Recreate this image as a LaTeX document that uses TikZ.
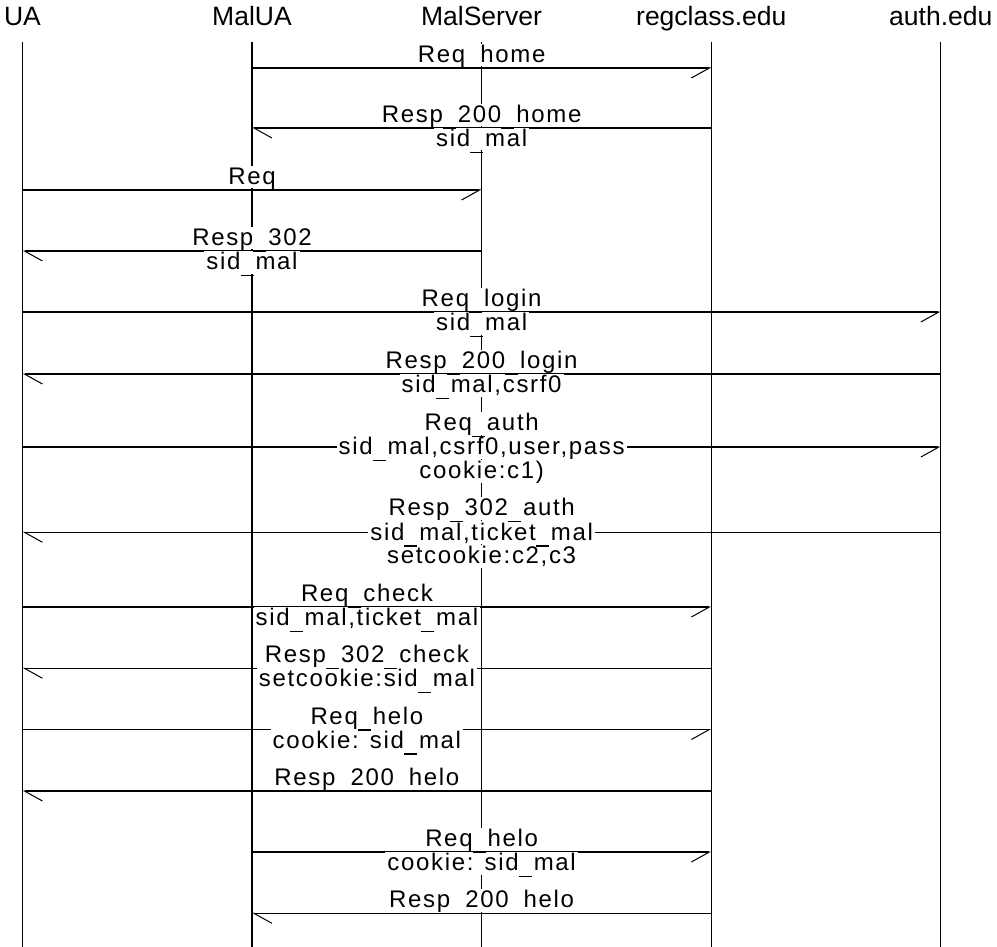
\documentclass[tikz,border=0pt]{standalone}
\usepackage{fontspec}
\setmainfont{Liberation Sans}
\newfontfamily\lblfont[LetterSpace=7]{Liberation Sans}
\usetikzlibrary{arrows.meta}
\newcommand\us{\hbox to 15pt{\smash{\rule[-6.6pt]{13pt}{1.2pt}}\hss}}
\tikzset{
  hdr/.style={anchor=base, inner sep=0pt, font=\fontsize{26.5}{30}\selectfont},
  life/.style={line width=1.3pt},
  msgR/.style={line width=1.3pt, -{Straight Barb[harpoon,swap,length=18pt,width=20pt,line width=1pt]}},
  msgL/.style={line width=1.3pt, -{Straight Barb[harpoon,length=18pt,width=20pt,line width=1pt]}},
  lbl/.style={anchor=base, fill=white, inner xsep=2pt, inner ysep=1.2pt, text height=17.5pt, text depth=2.8pt, font=\lblfont\fontsize{24}{26}\selectfont}
}
\begin{document}
\begin{tikzpicture}[x=1pt,y=-1pt]
\useasboundingbox (0,0) rectangle (997,947);
% headers
\node[hdr] (ua) at (22.5,26) {UA};
\node[hdr] (malua) at (252,26) {MalUA};
\node[hdr] (malserver) at (481.5,26) {MalServer};
\node[hdr] (regclass) at (711.3,26) {regclass.edu};
\node[hdr] (auth) at (940.8,26) {auth.edu};
% lifelines
\coordinate (uaT) at (22.5,42);  \coordinate (uaB) at (22.5,947);
\coordinate (maluaT) at (252,42);  \coordinate (maluaB) at (252,947);
\coordinate (malserverT) at (481.5,42);  \coordinate (malserverB) at (481.5,947);
\coordinate (regclassT) at (711.3,42);  \coordinate (regclassB) at (711.3,947);
\coordinate (authT) at (940.8,42);  \coordinate (authB) at (940.8,947);
\draw[life] (uaT) -- (uaB);
\draw[life] (maluaT) -- (maluaB);
\draw[life] (malserverT) -- (malserverB);
\draw[life] (regclassT) -- (regclassB);
\draw[life] (authT) -- (authB);
% messages
\draw[msgR] (maluaT |- 0,68) -- (regclassT |- 0,68);
\draw[msgL] (regclassT |- 0,128) -- (maluaT |- 0,128);
\draw[msgR] (uaT |- 0,190) -- (malserverT |- 0,190);
\draw[msgL] (malserverT |- 0,251) -- (uaT |- 0,251);
\draw[msgR] (uaT |- 0,312) -- (authT |- 0,312);
\draw[msgL] (authT |- 0,374) -- (uaT |- 0,374);
\draw[msgR] (uaT |- 0,447) -- (authT |- 0,447);
\draw[msgL] (authT |- 0,532.3) -- (uaT |- 0,532.3);
\draw[msgR] (uaT |- 0,607) -- (regclassT |- 0,607);
\draw[msgL] (regclassT |- 0,668.3) -- (uaT |- 0,668.3);
\draw[msgR] (uaT |- 0,729.5) -- (regclassT |- 0,729.5);
\draw[msgL] (regclassT |- 0,791) -- (uaT |- 0,791);
\draw[msgR] (maluaT |- 0,852) -- (regclassT |- 0,852);
\draw[msgL] (regclassT |- 0,913.3) -- (maluaT |- 0,913.3);
% labels (drawn bottom to top)
\node[lbl] (m14a) at (481.65,907.8) {Resp\us 200\us helo};
\node[lbl] (m13b) at (481.65,870.5) {cookie: sid\us mal};
\node[lbl] (m13a) at (481.65,846.5) {Req\us helo};
\node[lbl] (m12a) at (366.9,785.5) {Resp\us 200\us helo};
\node[lbl] (m11b) at (366.9,748) {cookie: sid\us mal};
\node[lbl] (m11a) at (366.9,724) {Req\us helo};
\node[lbl] (m10b) at (366.9,686.8) {setcookie:sid\us mal};
\node[lbl] (m10a) at (366.9,662.8) {Resp\us 302\us check};
\node[lbl] (m9b) at (366.9,625.5) {sid\us mal,ticket\us mal};
\node[lbl] (m9a) at (366.9,601.5) {Req\us check};
\node[lbl] (m8c) at (481.65,563.5) {setcookie:c2,c3};
\node[lbl] (m8b) at (481.65,540) {sid\us mal,ticket\us mal};
\node[lbl] (m8a) at (481.65,515.5) {Resp\us 302\us auth};
\node[lbl] (m7c) at (481.65,478.5) {cookie:c1)};
\node[lbl] (m7b) at (481.65,454.5) {sid\us mal,csrf0,user,pass};
\node[lbl] (m7a) at (481.65,430.5) {Req\us auth};
\node[lbl] (m6b) at (481.65,392.5) {sid\us mal,csrf0};
\node[lbl] (m6a) at (481.65,368.5) {Resp\us 200\us login};
\node[lbl] (m5b) at (481.65,330.5) {sid\us mal};
\node[lbl] (m5a) at (481.65,306.5) {Req\us login};
\node[lbl] (m4b) at (252,269.5) {sid\us mal};
\node[lbl] (m4a) at (252,245.5) {Resp\us 302};
\node[lbl] (m3a) at (252,184.5) {Req};
\node[lbl] (m2b) at (481.65,146.5) {sid\us mal};
\node[lbl] (m2a) at (481.65,122.5) {Resp\us 200\us home};
\node[lbl] (m1a) at (481.65,62.5) {Req\us home};
\end{tikzpicture}
\end{document}
